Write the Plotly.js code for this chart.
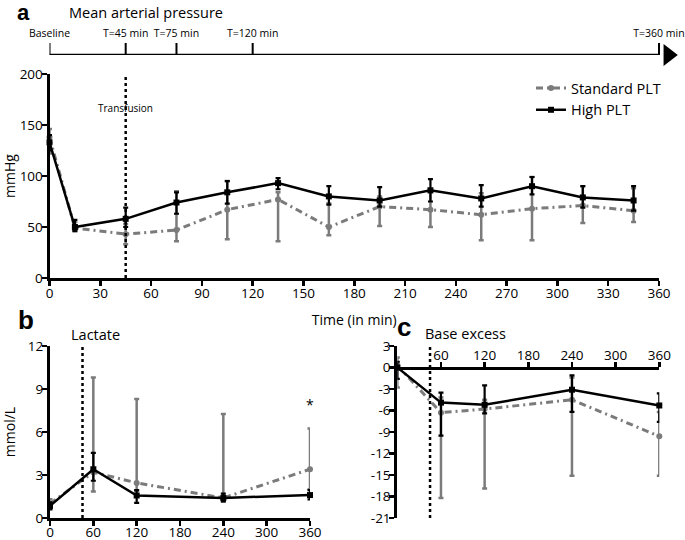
<!DOCTYPE html>
<html>
<head>
<meta charset="utf-8">
<script src="https://cdn.plot.ly/plotly-3.0.1.min.js"></script>
<style>html,body{margin:0;padding:0;background:#fff;}#chart{width:685px;height:540px;}</style>
</head>
<body>
<div id="chart"></div>
<script>
// ---------- DATA ----------
// Panel a: Mean arterial pressure (mmHg)
const timesA = [0, 15, 45, 75, 105, 135, 165, 195, 225, 255, 285, 315, 345];
const stdA    = [138, 49, 43, 47, 67, 77, 50, 70, 67, 62, 68, 71, 66];
const stdAHi  = [146, 55, 53, 85, 95, 84, 73, 80, 84, 83, 99, 90, 88];
const stdALo  = [122, 46, 33, 36, 38, 36, 42, 51, 50, 37, 37, 54, 55];
const highA   = [133, 50, 58, 74, 84, 93, 80, 76, 86, 78, 90, 79, 76];
const highAHi = [140, 57, 69, 84, 95, 98, 90, 89, 97, 91, 99, 90, 90];
const highALo = [125, 46, 50, 63, 73, 87, 72, 70, 75, 70, 82, 69, 66];

// Panel b: Lactate (mmol/L)
const timesB = [0, 60, 120, 240, 360];
const stdB    = [1.0, 3.2, 2.45, 1.4, 3.4];
const stdBHi  = [1.3, 9.8, 8.3, 7.25, 6.25];
const stdBLo  = [0.7, 1.85, 1.9, 1.15, 2.0];
const highB   = [0.85, 3.4, 1.57, 1.4, 1.6];
const highBHi = [1.1, 4.55, 1.95, 1.7, 1.95];
const highBLo = [0.6, 2.6, 1.05, 1.15, 1.3];

// Panel c: Base excess
const timesC = [0, 60, 120, 240, 360];
const stdC    = [0.3, -6.3, -5.8, -4.5, -9.6];
const stdCHi  = [1.4, -4.2, -4.5, -1.4, -6.2];
const stdCLo  = [-2.8, -18.2, -16.9, -15.1, -15.1];
const highC   = [0.0, -4.9, -5.2, -3.1, -5.3];
const highCHi = [0.8, -3.5, -2.5, -1.1, -3.6];
const highCLo = [-1.6, -9.5, -6.4, -6.2, -7.6];

// Timeline
const timelineTimes  = [0, 45, 75, 120, 360];
const timelineLabels = ['Baseline', 'T=45 min', 'T=75 min', 'T=120 min', 'T=360 min'];

// Tick labels
const ticksA_y = [0, 50, 100, 150, 200];
const ticksA_x = [0, 30, 60, 90, 120, 150, 180, 210, 240, 270, 300, 330, 360];
const ticksB_y = [0, 3, 6, 9, 12];
const ticksB_x = [0, 60, 120, 180, 240, 300, 360];
const ticksC_y = [3, 0, -3, -6, -9, -12, -15, -18, -21];
const ticksC_x = [60, 120, 180, 240, 300, 360];
const transfusionTime = 45;
const seriesNames = ['Standard PLT', 'High PLT'];

// ---------- STYLE ----------
const W = 685, H = 540;
const px = v => v / W;
const py = v => 1 - v / H;
const GRAY = '#7b7b7b';
const FONT = 'Open Sans, Lato, sans-serif';

// panel a plot area in pixels (used for the timeline helper axis)
const A_L = 49.5, A_R = 659;
const tlRangeMax = 360 * (W - A_L) / (A_R - A_L);
// panels b/c vertical extent in pixels
const BC_TOP = 346, BC_BOT = 518;

function errs(y, hi, lo) {
  return { array: hi.map((h, i) => h - y[i]), arrayminus: lo.map((l, i) => y[i] - l) };
}
function stdTrace(x, y, hi, lo, xa, ya, legend) {
  const e = errs(y, hi, lo);
  return {
    x: x, y: y, xaxis: xa, yaxis: ya, type: 'scatter', mode: 'lines+markers',
    name: seriesNames[0], showlegend: legend, cliponaxis: false,
    line: { color: GRAY, width: 3, dash: '7px,4px,2px,4px' },
    marker: { symbol: 'circle', size: 6, color: GRAY },
    error_y: { type: 'data', symmetric: false, array: e.array, arrayminus: e.arrayminus,
               color: GRAY, thickness: 2.5, width: 2.5 }
  };
}
function highTrace(x, y, hi, lo, xa, ya, legend) {
  const e = errs(y, hi, lo);
  return {
    x: x, y: y, xaxis: xa, yaxis: ya, type: 'scatter', mode: 'lines+markers',
    name: seriesNames[1], showlegend: legend, cliponaxis: false,
    line: { color: '#000', width: 2.5 },
    marker: { symbol: 'square', size: 6, color: '#000' },
    error_y: { type: 'data', symmetric: false, array: e.array, arrayminus: e.arrayminus,
               color: '#000', thickness: 2.2, width: 2.5 }
  };
}

// timeline tick segments
const tlX = [], tlY = [];
timelineTimes.forEach(t => { tlX.push(t, t, null); tlY.push(0, 1, null); });

const data = [
  stdTrace(timesA, stdA, stdAHi, stdALo, 'x', 'y', true),
  highTrace(timesA, highA, highAHi, highALo, 'x', 'y', true),
  stdTrace(timesB, stdB, stdBHi, stdBLo, 'x2', 'y2', false),
  highTrace(timesB, highB, highBHi, highBLo, 'x2', 'y2', false),
  stdTrace(timesC, stdC, stdCHi, stdCLo, 'x3', 'y3', false),
  highTrace(timesC, highC, highCHi, highCLo, 'x3', 'y3', false),
  // timeline baseline
  { x: [timelineTimes[0], timelineTimes[timelineTimes.length - 1]], y: [0, 0], xaxis: 'x4', yaxis: 'y4',
    mode: 'lines', line: { color: '#000', width: 2.5 }, showlegend: false, cliponaxis: false, hoverinfo: 'skip' },
  // timeline ticks
  { x: tlX, y: tlY, xaxis: 'x4', yaxis: 'y4', mode: 'lines', line: { color: '#000', width: 2 },
    showlegend: false, cliponaxis: false, hoverinfo: 'skip' },
  // arrow head
  { x: [timelineTimes[timelineTimes.length - 1] + 5.5], y: [0], xaxis: 'x4', yaxis: 'y4', mode: 'markers',
    marker: { symbol: 'triangle-right', size: 19, color: '#000' }, showlegend: false, cliponaxis: false, hoverinfo: 'skip' },
  // timeline labels
  { x: timelineTimes, y: timelineTimes.map(() => 1.75), text: timelineLabels, xaxis: 'x4', yaxis: 'y4',
    mode: 'text', textfont: { family: FONT, size: 10.5, color: '#000' }, showlegend: false, cliponaxis: false, hoverinfo: 'skip' }
];

const axBase = {
  showgrid: false, zeroline: false, showline: true, linecolor: '#000', linewidth: 3,
  ticks: 'outside', ticklen: 5, tickwidth: 2.5, tickcolor: '#000', ticklabelstandoff: -4,
  tickfont: { family: FONT, size: 13.5, color: '#000' }, tickmode: 'array', fixedrange: true
};
function ax(extra) { return Object.assign({}, axBase, extra); }

const layout = {
  width: W, height: H, margin: { l: 0, r: 0, t: 0, b: 0 },
  paper_bgcolor: '#fff', plot_bgcolor: 'rgba(0,0,0,0)',
  font: { family: FONT, color: '#000' },
  showlegend: true,
  legend: { x: px(531), y: py(72), xanchor: 'left', yanchor: 'top',
            font: { family: FONT, size: 14.5, color: '#000' }, bgcolor: 'rgba(0,0,0,0)',
            tracegroupgap: 0, itemwidth: 30 },
  xaxis: ax({ domain: [px(A_L), px(A_R)], range: [0, 360], anchor: 'y',
              tickvals: ticksA_x, ticktext: ticksA_x.map(String),
              title: { text: 'Time (in min)', font: { family: FONT, size: 14 }, standoff: 14 } }),
  yaxis: ax({ domain: [py(278), py(74)], range: [0, 200], anchor: 'x',
              tickvals: ticksA_y, ticktext: ticksA_y.map(String),
              title: { text: 'mmHg', font: { family: FONT, size: 14 }, standoff: 10 } }),
  xaxis2: ax({ domain: [px(50), px(310)], range: [0, 360], anchor: 'y2', ticklabelstandoff: -5,
               tickvals: ticksB_x, ticktext: ticksB_x.map(String) }),
  yaxis2: ax({ domain: [py(BC_BOT), py(BC_TOP)], range: [0, 12], anchor: 'x2',
               tickvals: ticksB_y, ticktext: ticksB_y.map(String),
               title: { text: 'mmol/L', font: { family: FONT, size: 14 }, standoff: 9 } }),
  xaxis3: ax({ domain: [px(397.3), px(659.3)], range: [0, 360], anchor: 'free',
               position: py(BC_TOP + (BC_BOT - BC_TOP) / 8),
               side: 'top', tickvals: ticksC_x, ticktext: ticksC_x.map(String) }),
  yaxis3: ax({ domain: [py(BC_BOT), py(BC_TOP)], range: [-21, 3], anchor: 'x3',
               tickvals: ticksC_y, ticktext: ticksC_y.map(String) }),
  xaxis4: { domain: [px(A_L), 1], range: [0, tlRangeMax], anchor: 'y4', visible: false, fixedrange: true },
  yaxis4: { domain: [py(55), py(25)], range: [0, 2.5], anchor: 'x4', visible: false, fixedrange: true },
  shapes: [
    { type: 'line', xref: 'x', yref: 'y', x0: transfusionTime, x1: transfusionTime, y0: 0, y1: 200,
      line: { color: '#000', width: 2.5, dash: 'dot' } },
    { type: 'line', xref: 'x2', yref: 'y2', x0: transfusionTime, x1: transfusionTime, y0: 0, y1: 12,
      line: { color: '#000', width: 2.5, dash: 'dot' } },
    { type: 'line', xref: 'x3', yref: 'y3', x0: transfusionTime, x1: transfusionTime, y0: -21, y1: 3,
      line: { color: '#000', width: 2.5, dash: 'dot' } }
  ],
  annotations: [
    { text: '<b>a</b>', xref: 'paper', yref: 'paper', x: px(15), y: py(13), xanchor: 'left', yanchor: 'middle',
      showarrow: false, font: { family: 'Arial, Liberation Sans', size: 22, color: '#000' } },
    { text: 'Mean arterial pressure', xref: 'paper', yref: 'paper', x: px(67), y: py(12), xanchor: 'left', yanchor: 'middle',
      showarrow: false, font: { family: FONT, size: 14.5, color: '#000' } },
    { text: 'Transfusion', xref: 'x', yref: 'y', x: transfusionTime, y: 167, showarrow: false,
      font: { family: FONT, size: 10, color: '#000' } },
    { text: '<b>b</b>', xref: 'paper', yref: 'paper', x: px(16), y: py(320), xanchor: 'left', yanchor: 'middle',
      showarrow: false, font: { family: 'Arial, Liberation Sans', size: 26, color: '#000' } },
    { text: 'Lactate', xref: 'paper', yref: 'paper', x: px(69), y: py(334), xanchor: 'left', yanchor: 'middle',
      showarrow: false, font: { family: FONT, size: 14.5, color: '#000' } },
    { text: '*', xref: 'x2', yref: 'y2', x: 360, y: 7.9, showarrow: false,
      font: { family: FONT, size: 14, color: '#000' } },
    { text: '<b>c</b>', xref: 'paper', yref: 'paper', x: px(395), y: py(327), xanchor: 'left', yanchor: 'middle',
      showarrow: false, font: { family: 'Arial, Liberation Sans', size: 26, color: '#000' } },
    { text: 'Base excess', xref: 'paper', yref: 'paper', x: px(423), y: py(333), xanchor: 'left', yanchor: 'middle',
      showarrow: false, font: { family: FONT, size: 14.5, color: '#000' } }
  ]
};

Plotly.newPlot('chart', data, layout, { staticPlot: true, displayModeBar: false });
</script>
</body>
</html>
